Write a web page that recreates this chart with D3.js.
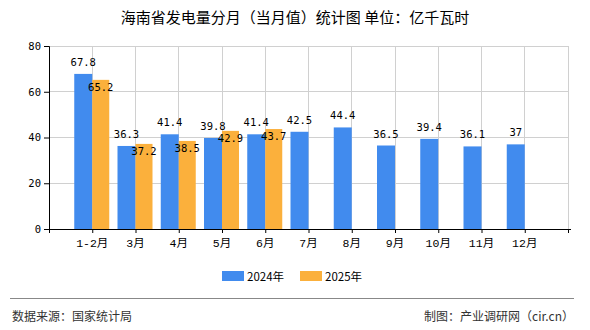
<!DOCTYPE html>
<html><head><meta charset="utf-8">
<script src="https://cdn.jsdelivr.net/npm/d3@7/dist/d3.min.js"></script>
<style>body{margin:0;background:#fff}svg{display:block}</style>
</head><body><div id="chart"></div>
<script>
const categories = ["1-2月","3月","4月","5月","6月","7月","8月","9月","10月","11月","12月"];
const values2024 = [67.8,36.3,41.4,39.8,41.4,42.5,44.4,36.5,39.4,36.1,37];
const values2025 = [65.2,37.2,38.5,42.9,43.7];
const yTicks = [0,20,40,60,80];
const seriesNames = ["2024年","2025年"];
const colors = ["#418bee","#fbb03c"];

const W=590,H=330;
const svg=d3.select("#chart").append("svg").attr("width",W).attr("height",H);
const L=49,R=568,T=46,B=229;
const x=d3.scaleLinear().domain([0,12]).range([L,R]);
const y=d3.scaleLinear().domain([0,80]).range([B,T]);
const numFont='"DejaVu Sans Mono","Liberation Mono",monospace';
const cjkFont='"Liberation Mono","Noto Sans CJK SC",monospace';

svg.append("text").attr("x",W/2).attr("y",23).attr("text-anchor","middle")
  .attr("font-family",'"Noto Sans CJK SC",sans-serif').attr("font-size",15).attr("fill","#000")
  .text("海南省发电量分月（当月值）统计图 单位：亿千瓦时");

// grid
const g=svg.append("g");
g.selectAll("line.h").data(yTicks.filter(d=>d>0)).join("line")
  .attr("x1",L).attr("x2",R).attr("y1",d=>y(d)).attr("y2",d=>y(d))
  .attr("stroke","#d0d0d0").attr("stroke-width",1).attr("shape-rendering","crispEdges");
g.selectAll("line.v").data(d3.range(1,13)).join("line")
  .attr("x1",d=>x(d)).attr("x2",d=>x(d)).attr("y1",T).attr("y2",B)
  .attr("stroke","#d0d0d0").attr("stroke-width",1).attr("shape-rendering","crispEdges");

// bars
const bw1=18,bw2=17;
svg.append("g").selectAll("rect").data(values2024).join("rect")
  .attr("x",(d,i)=>x(i+1)-bw1).attr("width",bw1)
  .attr("y",d=>y(d)).attr("height",d=>B-y(d)).attr("fill",colors[0]);
svg.append("g").selectAll("rect").data(values2025).join("rect")
  .attr("x",(d,i)=>x(i+1)).attr("width",bw2)
  .attr("y",d=>y(d)).attr("height",d=>B-y(d)).attr("fill",colors[1]);

// labels
svg.append("g").selectAll("text").data(values2024).join("text")
  .attr("x",(d,i)=>x(i+1)-bw1/2).attr("y",d=>y(d)-8).attr("text-anchor","middle")
  .attr("font-family",numFont).attr("font-size",10.5).attr("fill","#000").text(d=>d);
svg.append("g").selectAll("text").data(values2025).join("text")
  .attr("x",(d,i)=>x(i+1)+bw2/2).attr("y",d=>y(d)+11).attr("text-anchor","middle")
  .attr("font-family",numFont).attr("font-size",10.5).attr("fill","#000").text(d=>d);

// y axis
const ya=svg.append("g").attr("transform",`translate(${L},0)`)
  .call(d3.axisLeft(y).tickValues(yTicks).tickSize(5).tickPadding(3));
ya.select(".domain").attr("stroke","#000");
ya.selectAll(".tick line").attr("stroke","#000");
ya.selectAll("text").attr("font-family",numFont).attr("font-size",10.5).attr("fill","#000");

// x axis
const xa=svg.append("g").attr("transform",`translate(0,${B})`)
  .call(d3.axisBottom(x).tickValues(d3.range(0,13)).tickSize(4).tickFormat(""));
xa.select(".domain").attr("d",`M${L-5},0.5H${R+3}`).attr("stroke","#000");
xa.selectAll(".tick line").attr("stroke","#000");
svg.append("g").selectAll("text").data(categories).join("text")
  .attr("x",(d,i)=>x(i+1)).attr("y",B+18).attr("text-anchor","middle")
  .attr("font-family",cjkFont).attr("font-size",11.5).attr("fill","#000").text(d=>d);

// legend
const leg=svg.append("g");
const lx=[222,300];
seriesNames.forEach((s,i)=>{
  leg.append("rect").attr("x",lx[i]).attr("y",271).attr("width",22).attr("height",10).attr("fill",colors[i]);
  leg.append("text").attr("x",lx[i]+25).attr("y",280.5).attr("font-family",'"Noto Sans CJK SC",sans-serif')
    .attr("font-size",11.5).attr("fill","#000").text(s);
});

// footer
svg.append("line").attr("x1",10).attr("x2",574).attr("y1",298.5).attr("y2",298.5).attr("stroke","#888").attr("stroke-width",1);
svg.append("text").attr("x",12).attr("y",321).attr("font-family",'"Noto Sans CJK SC",sans-serif')
  .attr("font-size",12).attr("fill","#333").text("数据来源：国家统计局");
svg.append("text").attr("x",574).attr("y",321).attr("text-anchor","end").attr("font-family",'"Noto Sans CJK SC",sans-serif')
  .attr("font-size",12).attr("fill","#333").text("制图：产业调研网（cir.cn）");
</script></body></html>
